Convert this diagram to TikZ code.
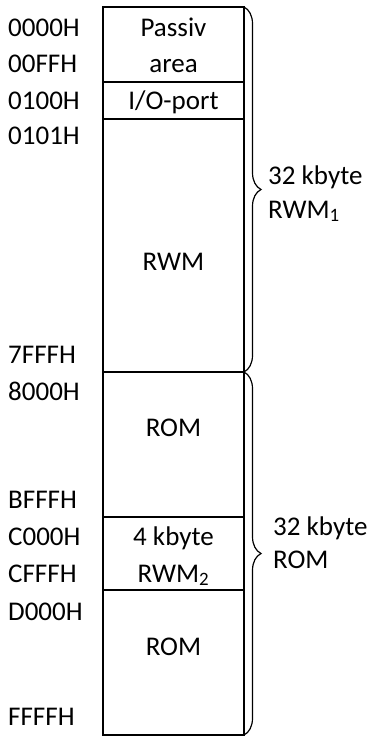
\documentclass[tikz,border=0pt]{standalone}
\usepackage{fontspec}
\setmainfont{Carlito}
\usetikzlibrary{decorations.pathreplacing}

\begin{document}
\begin{tikzpicture}[
    x=1pt, y=-1pt,
    every node/.style={font=\fontsize{27}{36}\selectfont, inner sep=0pt},
    addr/.style={anchor=base west},
    label/.style={anchor=base},
    memline/.style={line width=2pt},
    bracket/.style={decorate, decoration={brace, amplitude=17pt, aspect=0.5}, line width=1.2pt}
]
\useasboundingbox (0,0) rectangle (377,738);

% Memory block
\coordinate (TL) at (103,7);
\coordinate (BR) at (244,735);
\draw[memline] (TL) rectangle (BR);
\foreach \y/\name in {82/s1, 119/s2, 372/s3, 517/s4, 590/s5} {
    \coordinate (\name l) at (103,\y);
    \coordinate (\name r) at (244,\y);
    \draw[memline] (\name l) -- (\name r);
}

% Addresses
\foreach \y/\txt [count=\i] in {37/0000H, 73/00FFH, 110/0100H, 145/0101H, 363/7FFFH,
    400/8000H, 508/BFFFH, 545/C000H, 582/CFFFH, 620/D000H, 725/FFFFH} {
    \node[addr] (addr\i) at (8,\y) {\txt};
}

% Areas
\node[label] (passiv) at (173.5,37) {Passiv};
\node[label] (area) at (173.5,73) {area};
\node[label] (io) at (173.5,110) {I/O-port};
\node[label] (rwm) at (173.5,270) {RWM};
\node[label] (rom1) at (173.5,436) {ROM};
\node[label] (kb4) at (173.5,545) {4 kbyte};
\node[label] (rwm2) at (173.5,582) {RWM\textsubscript{2}};
\node[label] (rom2) at (173.5,655) {ROM};

% Braces
\coordinate (b1t) at (244,7);
\coordinate (b1b) at (244,372);
\coordinate (b2b) at (244,735);
\draw[bracket] (b1t) -- (b1b);
\draw[bracket] (b1b) -- (b2b);

\node[addr] (size1) at (268,185) {32 kbyte};
\node[addr] (name1) at (268,218) {RWM\textsubscript{1}};
\node[addr] (size2) at (273,535) {32 kbyte};
\node[addr] (name2) at (273,568) {ROM};

\end{tikzpicture}
\end{document}
